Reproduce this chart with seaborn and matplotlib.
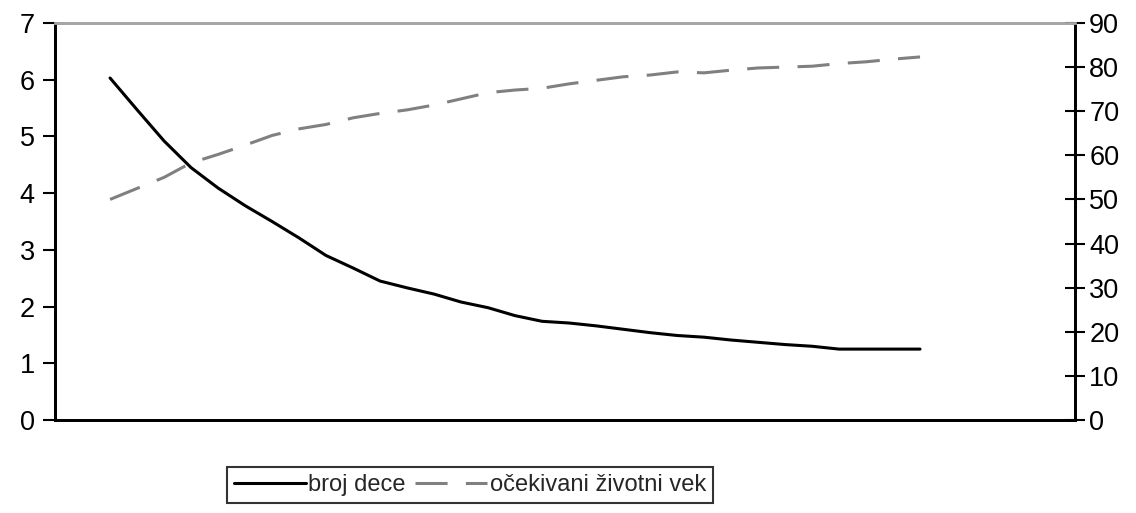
import numpy as np
import pandas as pd
import matplotlib
matplotlib.use("Agg")
import matplotlib.pyplot as plt
import seaborn as sns

# values (one point per step)
broj_dece = [6.03, 5.47, 4.92, 4.45, 4.09, 3.78, 3.50, 3.21, 2.90, 2.68,
             2.45, 2.33, 2.22, 2.08, 1.98, 1.84, 1.74, 1.71, 1.66, 1.60,
             1.54, 1.49, 1.46, 1.41, 1.37, 1.33, 1.30, 1.25, 1.25, 1.25,
             1.25]
zivotni_vek = [50.0, 52.5, 55.0, 58.3, 60.2, 62.3, 64.5, 66.0, 67.0, 68.5,
               69.5, 70.3, 71.4, 72.8, 74.2, 74.8, 75.2, 76.2, 77.0, 77.8,
               78.2, 78.9, 78.7, 79.3, 79.8, 80.0, 80.2, 80.8, 81.2, 81.8,
               82.3]
left_ticks = list(range(0, 8))
right_ticks = list(range(0, 100, 10))

df = pd.DataFrame({"step": np.arange(len(broj_dece)),
                   "broj dece": broj_dece,
                   "očekivani životni vek": zivotni_vek})

sns.set_style("white")
plt.rcParams["font.family"] = ["Liberation Sans", "DejaVu Sans"]

fig = plt.figure(figsize=(11.36, 5.13), dpi=100)
ax = fig.add_axes([0.0484, 0.1813, 0.8979, 0.7739])
ax2 = ax.twinx()

sns.lineplot(x="step", y="broj dece", data=df, ax=ax, color="black",
             linewidth=2.2, label="broj dece", legend=False)
sns.lineplot(x="step", y="očekivani životni vek", data=df, ax=ax2,
             color="#808080", linewidth=2.2, dashes=False,
             label="očekivani životni vek", legend=False)
ax2.lines[0].set_dashes([10.5, 6])

ax.set_xlim(-2.04, 35.74)
ax.set_ylim(0, 7)
ax2.set_ylim(0, 90)
ax.set_yticks(left_ticks)
ax2.set_yticks(right_ticks)
ax.set_xticks([])
ax.set_xlabel("")
ax.set_ylabel("")
ax2.set_ylabel("")

for a in (ax, ax2):
    for side in ("left", "right", "bottom"):
        a.spines[side].set_color("black")
        a.spines[side].set_linewidth(2.0)
    a.spines["top"].set_color("#a6a6a6")
    a.spines["top"].set_linewidth(2.0)
    a.grid(False)

ax.tick_params(axis="y", left=True, direction="out", length=8.6, width=1.5,
               pad=6, labelsize=19.5, colors="black")
ax2.tick_params(axis="y", right=True, direction="inout", length=14.4,
                width=1.5, pad=3, labelsize=19.5, colors="black")

h1, l1 = ax.get_legend_handles_labels()
h2, l2 = ax2.get_legend_handles_labels()
leg = fig.legend(h1 + h2, l1 + l2, loc="upper center",
                 bbox_to_anchor=(0.4137, 0.0897), ncol=2, fontsize=17,
                 frameon=True, fancybox=False, edgecolor="black",
                 handlelength=3.05, handletextpad=0.1, columnspacing=0.4,
                 borderpad=0.3, borderaxespad=0)
leg.get_frame().set_linewidth(1.5)

fig.savefig("out.png", dpi=100)
